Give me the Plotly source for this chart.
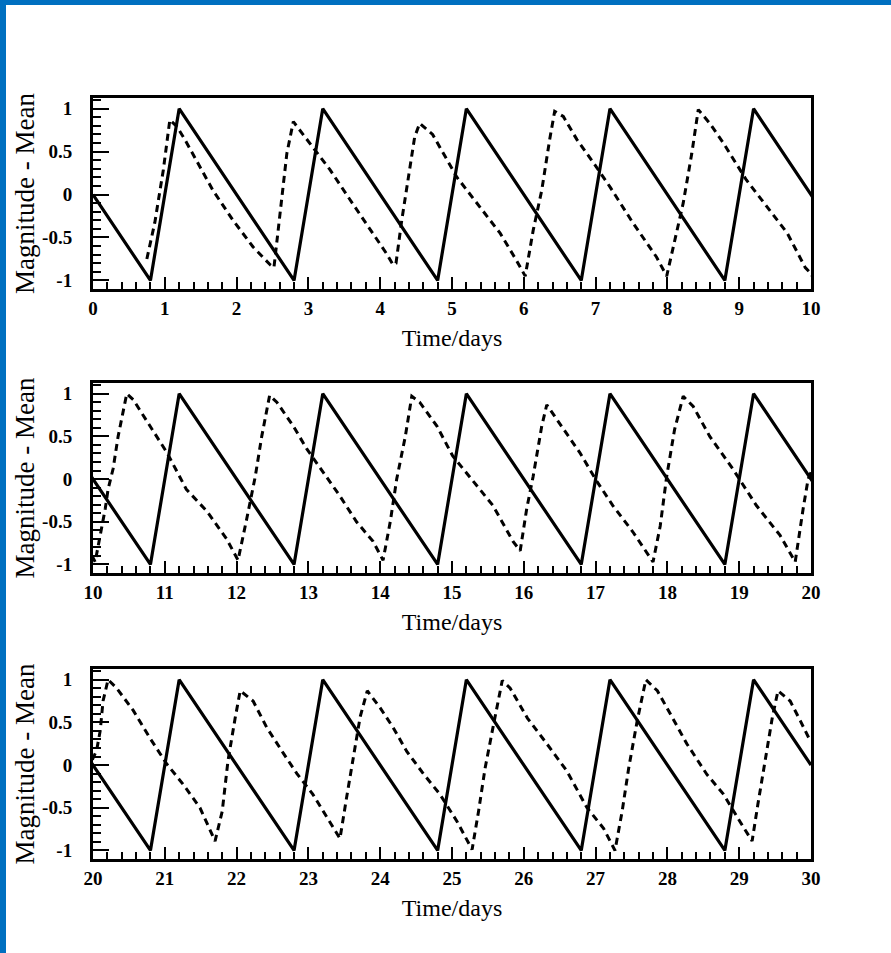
import plotly.graph_objects as go

# ---------------- data ----------------
solid_t = [0, 0.8, 1.2, 2.8, 3.2, 4.8, 5.2, 6.8, 7.2, 8.8, 9.2, 10,
           10.8, 11.2, 12.8, 13.2, 14.8, 15.2, 16.8, 17.2, 18.8, 19.2, 20,
           20.8, 21.2, 22.8, 23.2, 24.8, 25.2, 26.8, 27.2, 28.8, 29.2, 30]
solid_v = [0, -1, 1, -1, 1, -1, 1, -1, 1, -1, 1, 0,
           -1, 1, -1, 1, -1, 1, -1, 1, -1, 1, 0,
           -1, 1, -1, 1, -1, 1, -1, 1, -1, 1, 0]

dashed_t = [0.75, 0.86, 0.98, 1.07, 1.17, 1.28, 1.67, 1.95, 2.23, 2.47, 2.52,
            2.58, 2.70, 2.79, 3.02, 3.30, 3.58, 3.86, 4.09, 4.18, 4.22,
            4.30, 4.39, 4.48, 4.55, 4.73, 5.07, 5.39, 5.67, 5.90, 6.02,
            6.13, 6.25, 6.36, 6.43, 6.55, 6.74, 6.97, 7.20, 7.52, 7.85, 7.99,
            8.10, 8.22, 8.34, 8.43, 8.59, 8.78, 9.10, 9.39, 9.67, 9.92, 10.0,
            10.03, 10.08, 10.17, 10.21, 10.28, 10.35, 10.47, 10.56, 10.79, 11.03,
            11.30, 11.59, 11.86, 12.02, 12.14, 12.26, 12.35, 12.46, 12.56, 12.79,
            12.98, 13.20, 13.44, 13.67, 13.90, 14.04, 14.14, 14.23, 14.35, 14.44,
            14.55, 14.79, 15.01, 15.30, 15.57, 15.85, 15.95, 16.04, 16.13, 16.25,
            16.32, 16.50, 16.78, 17.02, 17.24, 17.52, 17.80, 17.90, 17.99, 18.10,
            18.22, 18.36, 18.59, 18.91, 19.24, 19.57, 19.78, 19.89, 19.96, 20.0,
            20.05, 20.10, 20.14, 20.21, 20.33, 20.56, 20.79, 21.03, 21.25, 21.49,
            21.70, 21.80, 21.88, 21.98, 22.05, 22.23, 22.42, 22.65, 22.84, 23.06,
            23.30, 23.44, 23.53, 23.62, 23.72, 23.82, 24.00, 24.18, 24.37, 24.60,
            24.83, 25.07, 25.28, 25.37, 25.46, 25.58, 25.70, 25.81, 26.05, 26.32,
            26.60, 26.88, 27.11, 27.27, 27.37, 27.46, 27.58, 27.70, 27.86, 28.04,
            28.27, 28.55, 28.78, 29.01, 29.18, 29.26, 29.36, 29.46, 29.54, 29.71,
            29.85, 29.98]
dashed_v = [-0.75, -0.33, 0.29, 0.87, 0.79, 0.64, 0.05, -0.30, -0.61, -0.82, -0.85,
            -0.38, 0.48, 0.85, 0.60, 0.29, -0.06, -0.41, -0.69, -0.82, -0.80,
            -0.30, 0.20, 0.67, 0.83, 0.70, 0.20, -0.15, -0.45, -0.77, -0.95,
            -0.42, 0.05, 0.64, 0.97, 0.91, 0.64, 0.37, 0.09, -0.33, -0.73, -0.95,
            -0.53, -0.10, 0.48, 0.99, 0.83, 0.60, 0.17, -0.15, -0.45, -0.85, -0.92,
            -0.97, -0.75, -0.35, -0.12, 0.12, 0.50, 1.00, 0.93, 0.62, 0.31,
            -0.12, -0.38, -0.70, -0.95, -0.47, 0.03, 0.50, 0.98, 0.90, 0.62,
            0.35, 0.08, -0.20, -0.50, -0.73, -0.95, -0.50, 0.00, 0.50, 0.97,
            0.90, 0.62, 0.27, -0.03, -0.31, -0.73, -0.84, -0.35, 0.03, 0.62,
            0.87, 0.65, 0.31, -0.03, -0.31, -0.62, -0.97, -0.55, 0.03, 0.58,
            0.97, 0.85, 0.50, 0.12, -0.31, -0.66, -0.97, -0.35, 0.00, 0.08,
            0.17, 0.40, 0.75, 1.00, 0.90, 0.64, 0.32, 0.01, -0.22, -0.50,
            -0.89, -0.54, 0.05, 0.55, 0.87, 0.75, 0.44, 0.14, -0.10, -0.34,
            -0.66, -0.86, -0.39, 0.08, 0.56, 0.87, 0.67, 0.44, 0.16, -0.10,
            -0.34, -0.66, -0.99, -0.54, -0.04, 0.48, 0.99, 0.90, 0.55, 0.25,
            -0.07, -0.50, -0.74, -1.00, -0.54, -0.04, 0.52, 1.00, 0.87, 0.60,
            0.25, -0.11, -0.34, -0.66, -0.89, -0.46, 0.05, 0.55, 0.87, 0.75,
            0.52, 0.30]

panel_ranges = [(0, 10), (10, 20), (20, 30)]
x_tick_vals = [list(range(0, 11)), list(range(10, 21)), list(range(20, 31))]
x_tick_text = [[str(v) for v in vals] for vals in x_tick_vals]
y_tick_vals = [-1, -0.5, 0, 0.5, 1]
y_tick_text = ["-1", "-0.5", "0", "0.5", "1"]
x_title = "Time/days"
y_title = "Magnitude - Mean"

# ---------------- figure ----------------
W, H = 891, 953
fig = go.Figure()

# plot-area boxes in pixels: (left, right, top, bottom)
boxes = [(93, 811, 98, 289), (93, 811, 383, 573), (93, 811, 669, 859)]

serif = "Liberation Serif"
for i, (lo, hi) in enumerate(panel_ranges):
    xa = "x" if i == 0 else f"x{i+1}"
    ya = "y" if i == 0 else f"y{i+1}"
    fig.add_trace(go.Scatter(x=solid_t, y=solid_v, mode="lines",
                             line=dict(color="black", width=3.2),
                             xaxis=xa, yaxis=ya, showlegend=False))
    fig.add_trace(go.Scatter(x=dashed_t, y=dashed_v, mode="lines",
                             line=dict(color="black", width=3, dash="7px,5px"),
                             xaxis=xa, yaxis=ya, showlegend=False))
    l, r, t, b = boxes[i]
    xdom = [l / W, r / W]
    ydom = [1 - b / H, 1 - t / H]
    xkey = "xaxis" if i == 0 else f"xaxis{i+1}"
    ykey = "yaxis" if i == 0 else f"yaxis{i+1}"
    fig.update_layout(**{
        xkey: dict(domain=xdom, anchor=ya, range=[lo, hi],
                   showline=True, linecolor="black", linewidth=3, mirror=True,
                   ticks="inside", ticklen=12, tickwidth=2, tickcolor="black",
                   tickmode="array", tickvals=x_tick_vals[i], ticktext=x_tick_text[i],
                   tickfont=dict(family=serif, size=19, color="black", weight="bold"),
                   minor=dict(ticks="inside", dtick=0.2, tick0=0, ticklen=7,
                              tickwidth=1.5, tickcolor="black", showgrid=False),
                   showgrid=False, zeroline=False, automargin=False,
                   title=dict(text=x_title, standoff=12,
                              font=dict(family=serif, size=24, color="black"))),
        ykey: dict(domain=ydom, anchor=xa, range=[-1.1, 1.125],
                   showline=True, linecolor="black", linewidth=3, mirror=True,
                   ticks="inside", ticklen=16, tickwidth=2, tickcolor="black",
                   tickmode="array", tickvals=y_tick_vals, ticktext=y_tick_text,
                   tickfont=dict(family=serif, size=19, color="black", weight="bold"),
                   ticklabelstandoff=14,
                   minor=dict(ticks="inside", dtick=0.1, tick0=0, ticklen=8,
                              tickwidth=1.5, tickcolor="black", showgrid=False),
                   showgrid=False, zeroline=False, automargin=False,
                   title=dict(text=y_title, standoff=0,
                              font=dict(family=serif, size=27, color="black"))),
    })

# blue page border (left and top)
blue = "#0070C0"
fig.add_shape(type="rect", xref="paper", yref="paper", x0=0, x1=6 / W, y0=0, y1=1,
              fillcolor=blue, line=dict(width=0), layer="above")
fig.add_shape(type="rect", xref="paper", yref="paper", x0=0, x1=1, y0=1 - 5 / H, y1=1,
              fillcolor=blue, line=dict(width=0), layer="above")

fig.update_layout(width=W, height=H, margin=dict(l=0, r=0, t=0, b=0),
                  paper_bgcolor="white", plot_bgcolor="white", template="none",
                  showlegend=False)

fig.write_html("out.html")
